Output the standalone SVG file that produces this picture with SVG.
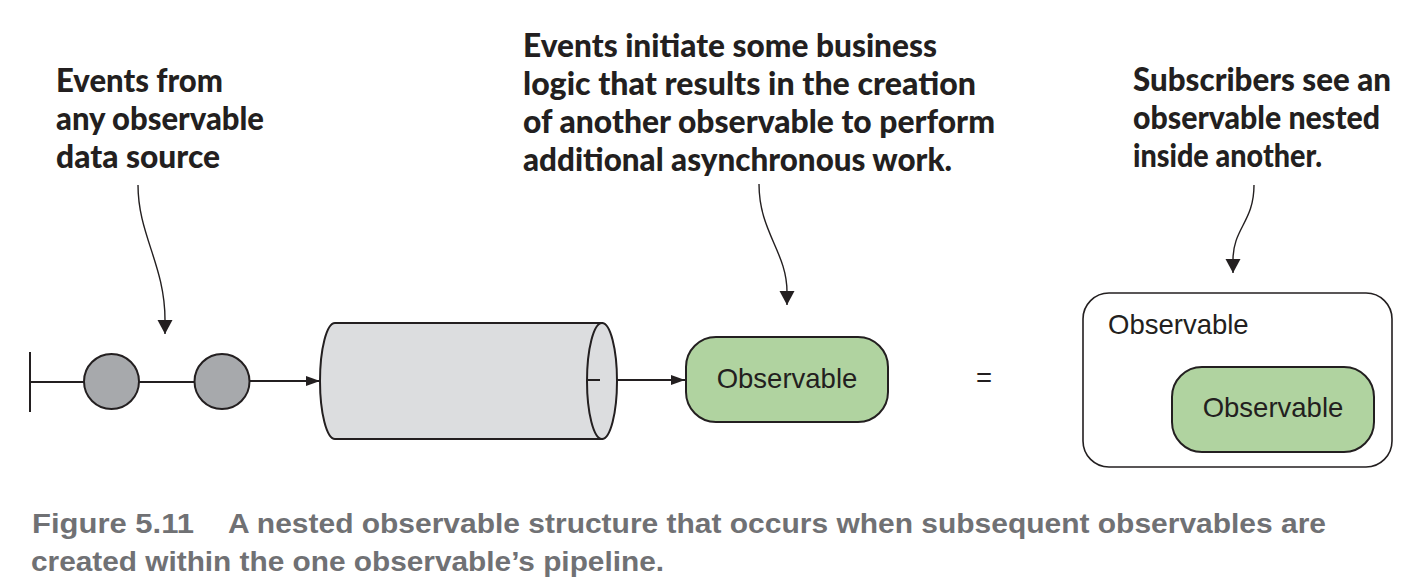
<svg xmlns="http://www.w3.org/2000/svg" width="1426" height="585" viewBox="0 0 1426 585">
<style>
.lbl{font-family:Lato,"Open Sans","DejaVu Sans",sans-serif;font-weight:900;font-size:32px;fill:#231f20}
.node{font-family:"Liberation Sans",Arial,sans-serif;font-size:27.5px;fill:#231f20}
.cap{font-family:"Liberation Sans",Arial,sans-serif;font-weight:bold;font-size:28px;fill:#707174}
.ln{stroke:#231f20;stroke-width:2;fill:none}
.thin{stroke:#231f20;stroke-width:1.4;fill:none}
.shape{stroke:#231f20;stroke-width:2}
</style>
<defs>
<marker id="ah" markerUnits="userSpaceOnUse" markerWidth="15" markerHeight="11" refX="14" refY="5" orient="auto">
<path d="M0,0 L14,5 L0,10 z" fill="#231f20"/>
</marker>
<marker id="ch" markerUnits="userSpaceOnUse" markerWidth="15" markerHeight="16" refX="14" refY="7.5" orient="auto">
<path d="M0,0 L14,7.5 L0,15 z" fill="#231f20"/>
</marker>
</defs>
<rect width="1426" height="585" fill="#ffffff"/>

<g id="label-left">
<text class="lbl" x="56" y="92" textLength="167" lengthAdjust="spacingAndGlyphs">Events from</text>
<text class="lbl" x="56" y="130" textLength="208" lengthAdjust="spacingAndGlyphs">any observable</text>
<text class="lbl" x="56" y="168" textLength="164" lengthAdjust="spacingAndGlyphs">data source</text>
</g>
<g id="label-middle">
<text class="lbl" x="523" y="57" textLength="414" lengthAdjust="spacingAndGlyphs">Events initiate some business</text>
<text class="lbl" x="523" y="95" textLength="453" lengthAdjust="spacingAndGlyphs">logic that results in the creation</text>
<text class="lbl" x="523" y="133" textLength="472" lengthAdjust="spacingAndGlyphs">of another observable to perform</text>
<text class="lbl" x="523" y="171" textLength="429" lengthAdjust="spacingAndGlyphs">additional asynchronous work.</text>
</g>
<g id="label-right">
<text class="lbl" x="1133" y="91" textLength="258" lengthAdjust="spacingAndGlyphs">Subscribers see an</text>
<text class="lbl" x="1133" y="129" textLength="247" lengthAdjust="spacingAndGlyphs">observable nested</text>
<text class="lbl" x="1133" y="167" textLength="189" lengthAdjust="spacingAndGlyphs">inside another.</text>
</g>

<g id="connectors">
<line class="ln" x1="30" y1="352" x2="30" y2="412"/>
<line class="ln" x1="30" y1="382" x2="84" y2="382"/>
<line class="ln" x1="139" y1="382" x2="194" y2="382"/>
<line class="ln" x1="250" y1="381" x2="320" y2="381" marker-end="url(#ah)"/>
<line class="ln" x1="587" y1="380" x2="685" y2="380" marker-end="url(#ah)"/>
<path class="thin" d="M138,185 C138,235 165,265 165,320 L165,334" marker-end="url(#ch)"/>
<path class="thin" d="M759,184 C759,232 787,252 787,292 L787,305" marker-end="url(#ch)"/>
<path class="thin" d="M1254,185 C1254,222 1233,228 1233,260 L1233,273" marker-end="url(#ch)"/>
</g>

<g id="event1">
<circle class="shape" cx="111.5" cy="381.5" r="27.5" fill="#a7a9ac"/>
</g>
<g id="event2">
<circle class="shape" cx="222" cy="381.5" r="27.5" fill="#a7a9ac"/>
</g>

<g id="pipeline">
<path class="shape" d="M602,323 L335,323 A15,58 0 0 0 335,439 L602,439 Z" fill="#dcdddf"/>
<ellipse class="shape" cx="602" cy="381" rx="15" ry="58" fill="#dcdddf"/>
<line class="ln" x1="587" y1="380" x2="600" y2="380"/>
</g>

<g id="observable">
<rect class="shape" x="686" y="337" width="202" height="85" rx="30" fill="#b0d3a0"/>
<text class="node" x="787" y="388" text-anchor="middle">Observable</text>
</g>

<g id="equals">
<text class="node" x="984" y="387" text-anchor="middle">=</text>
</g>

<g id="outer-observable">
<rect x="1083" y="293" width="309" height="174" rx="26" fill="#ffffff" stroke="#231f20" stroke-width="1.6"/>
<text class="node" x="1108" y="334">Observable</text>
</g>
<g id="inner-observable">
<rect class="shape" x="1172" y="367" width="202" height="85" rx="30" fill="#b0d3a0"/>
<text class="node" x="1273" y="417" text-anchor="middle">Observable</text>
</g>

<g id="caption">
<text class="cap" x="32" y="533" textLength="162" lengthAdjust="spacingAndGlyphs">Figure 5.11</text>
<text class="cap" x="228" y="533" textLength="1098" lengthAdjust="spacingAndGlyphs">A nested observable structure that occurs when subsequent observables are</text>
<text class="cap" x="31" y="571" textLength="633" lengthAdjust="spacingAndGlyphs">created within the one observable’s pipeline.</text>
</g>
</svg>
